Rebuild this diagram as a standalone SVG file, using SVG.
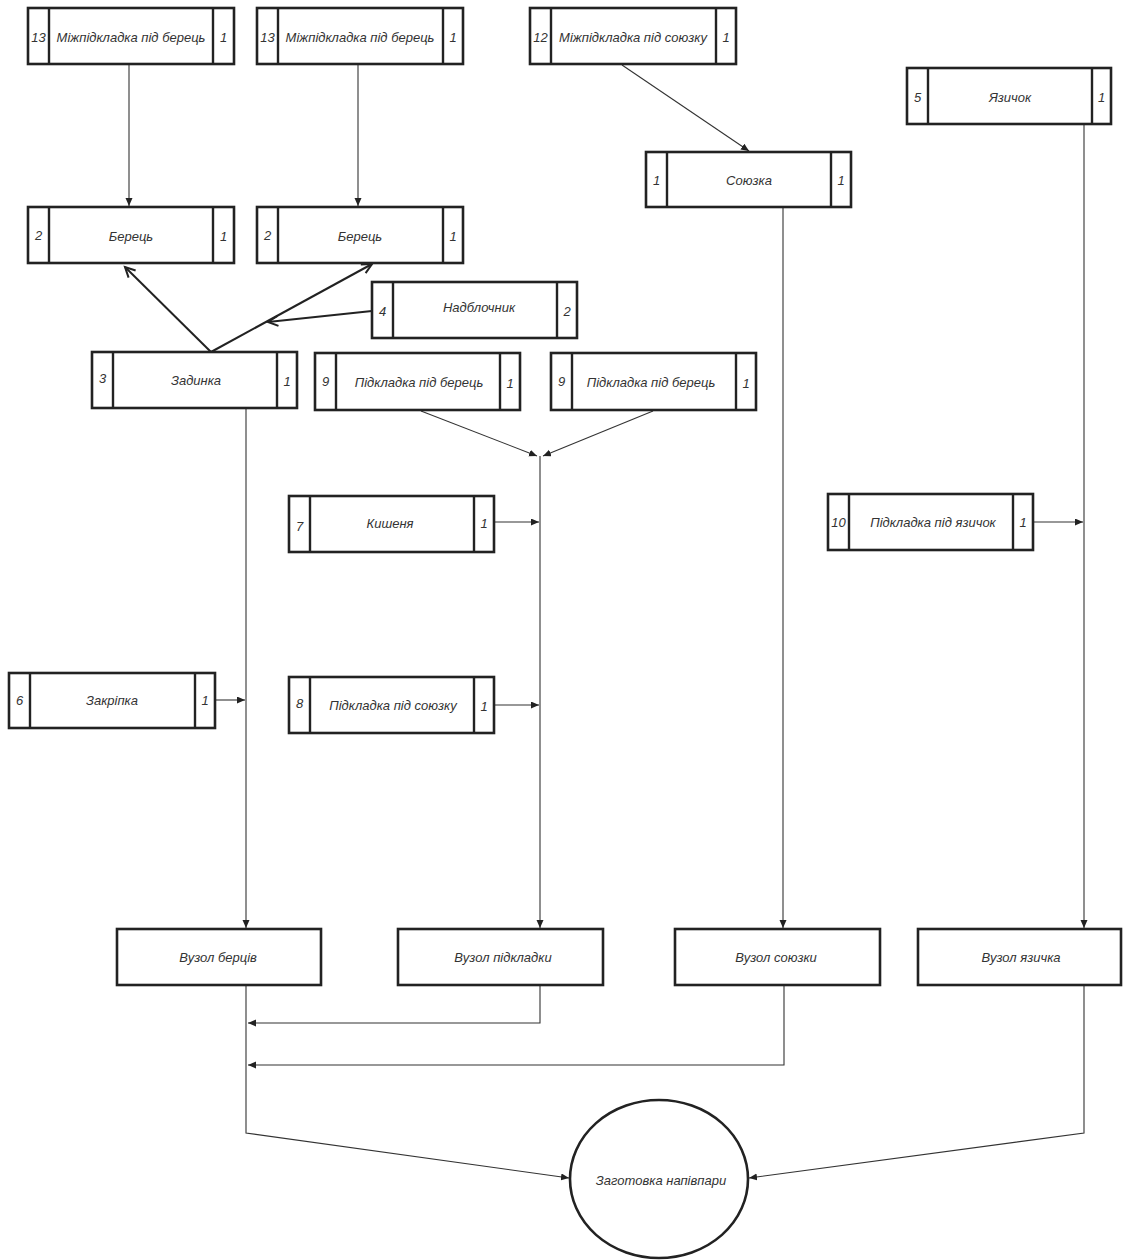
<svg xmlns="http://www.w3.org/2000/svg" width="1123" height="1260" viewBox="0 0 1123 1260">
<style>
.box{fill:#fff;stroke:#222;stroke-width:2.6}
.div{stroke:#222;stroke-width:2.4}
.t{font-family:"Liberation Sans",Arial,sans-serif;font-style:italic;font-size:13px;fill:#333;text-anchor:middle;dominant-baseline:central}
.c{fill:none;stroke:#333;stroke-width:1.1}
.ct{fill:none;stroke:#222;stroke-width:2}
</style>
<defs>
<marker id="ah" markerUnits="userSpaceOnUse" markerWidth="9" markerHeight="8" refX="8" refY="3.5" orient="auto">
<path d="M0,0 L8,3.5 L0,7 z" fill="#222"/>
</marker>
<marker id="oh" markerUnits="userSpaceOnUse" markerWidth="14" markerHeight="14" refX="11" refY="6" orient="auto">
<path d="M1,1 L11,6 L1,11" fill="none" stroke="#222" stroke-width="2"/>
</marker>
</defs>
<rect width="1123" height="1260" fill="#fff"/>

<g id="connectors">
<line class="c" x1="129" y1="64" x2="129" y2="206" marker-end="url(#ah)"/>
<line class="c" x1="358" y1="64" x2="358" y2="206" marker-end="url(#ah)"/>
<line class="c" x1="622" y1="65" x2="749" y2="151" marker-end="url(#ah)"/>
<line class="c" x1="783" y1="207" x2="783" y2="928" marker-end="url(#ah)"/>
<line class="c" x1="1084" y1="124" x2="1084" y2="928" marker-end="url(#ah)"/>
<line class="ct" x1="211" y1="352" x2="125" y2="267" marker-end="url(#oh)"/>
<line class="ct" x1="211" y1="352" x2="372" y2="264" marker-end="url(#oh)"/>
<line class="ct" x1="372" y1="311" x2="268" y2="322" marker-end="url(#oh)"/>
<line class="c" x1="246" y1="408" x2="246" y2="928" marker-end="url(#ah)"/>
<line class="c" x1="421" y1="411" x2="537" y2="456" marker-end="url(#ah)"/>
<line class="c" x1="653" y1="411" x2="543" y2="456" marker-end="url(#ah)"/>
<line class="c" x1="540" y1="456" x2="540" y2="928" marker-end="url(#ah)"/>
<line class="c" x1="494" y1="522" x2="539" y2="522" marker-end="url(#ah)"/>
<line class="c" x1="494" y1="705" x2="539" y2="705" marker-end="url(#ah)"/>
<line class="c" x1="215" y1="700" x2="245" y2="700" marker-end="url(#ah)"/>
<line class="c" x1="1033" y1="522" x2="1083" y2="522" marker-end="url(#ah)"/>
<polyline class="c" points="540,985 540,1023 248,1023" marker-end="url(#ah)"/>
<polyline class="c" points="784,985 784,1065 248,1065" marker-end="url(#ah)"/>
<polyline class="c" points="246,985 246,1133 569,1178" marker-end="url(#ah)"/>
<polyline class="c" points="1084,985 1084,1133 749,1178" marker-end="url(#ah)"/>
</g>

<g id="n13a">
<rect class="box" x="28" y="8" width="206" height="56"/>
<line class="div" x1="49" y1="8" x2="49" y2="64"/><line class="div" x1="213" y1="8" x2="213" y2="64"/>
<text class="t" x="38.5" y="37">13</text><text class="t" x="131" y="37">Міжпідкладка під берець</text><text class="t" x="223.5" y="37">1</text>
</g>
<g id="n13b">
<rect class="box" x="257" y="8" width="206" height="56"/>
<line class="div" x1="278" y1="8" x2="278" y2="64"/><line class="div" x1="443" y1="8" x2="443" y2="64"/>
<text class="t" x="267.5" y="37">13</text><text class="t" x="360" y="37">Міжпідкладка під берець</text><text class="t" x="453" y="37">1</text>
</g>
<g id="n12">
<rect class="box" x="530" y="8" width="206" height="56"/>
<line class="div" x1="551" y1="8" x2="551" y2="64"/><line class="div" x1="716" y1="8" x2="716" y2="64"/>
<text class="t" x="540.5" y="37">12</text><text class="t" x="633" y="37">Міжпідкладка під союзку</text><text class="t" x="726" y="37">1</text>
</g>
<g id="n5">
<rect class="box" x="907" y="68" width="204" height="56"/>
<line class="div" x1="928" y1="68" x2="928" y2="124"/><line class="div" x1="1092" y1="68" x2="1092" y2="124"/>
<text class="t" x="917.5" y="97">5</text><text class="t" x="1010" y="97">Язичок</text><text class="t" x="1101.5" y="97">1</text>
</g>
<g id="n1">
<rect class="box" x="646" y="152" width="205" height="55"/>
<line class="div" x1="667" y1="152" x2="667" y2="207"/><line class="div" x1="831" y1="152" x2="831" y2="207"/>
<text class="t" x="656.5" y="180">1</text><text class="t" x="749" y="180">Союзка</text><text class="t" x="841" y="180">1</text>
</g>
<g id="n2a">
<rect class="box" x="28" y="207" width="206" height="56"/>
<line class="div" x1="49" y1="207" x2="49" y2="263"/><line class="div" x1="213" y1="207" x2="213" y2="263"/>
<text class="t" x="38.5" y="235">2</text><text class="t" x="131" y="236">Берець</text><text class="t" x="223.5" y="236">1</text>
</g>
<g id="n2b">
<rect class="box" x="257" y="207" width="206" height="56"/>
<line class="div" x1="278" y1="207" x2="278" y2="263"/><line class="div" x1="443" y1="207" x2="443" y2="263"/>
<text class="t" x="267.5" y="235">2</text><text class="t" x="360" y="236">Берець</text><text class="t" x="453" y="236">1</text>
</g>
<g id="n4">
<rect class="box" x="372" y="282" width="205" height="56"/>
<line class="div" x1="393" y1="282" x2="393" y2="338"/><line class="div" x1="557" y1="282" x2="557" y2="338"/>
<text class="t" x="382.5" y="311">4</text><text class="t" x="479" y="307">Надблочник</text><text class="t" x="567" y="311">2</text>
</g>
<g id="n3">
<rect class="box" x="92" y="352" width="205" height="56"/>
<line class="div" x1="113" y1="352" x2="113" y2="408"/><line class="div" x1="277" y1="352" x2="277" y2="408"/>
<text class="t" x="102.5" y="378">3</text><text class="t" x="196" y="380">Задинка</text><text class="t" x="287" y="381">1</text>
</g>
<g id="n9a">
<rect class="box" x="315" y="353" width="205" height="57"/>
<line class="div" x1="336" y1="353" x2="336" y2="410"/><line class="div" x1="500" y1="353" x2="500" y2="410"/>
<text class="t" x="325.5" y="381">9</text><text class="t" x="419" y="382">Підкладка під берець</text><text class="t" x="510" y="383">1</text>
</g>
<g id="n9b">
<rect class="box" x="551" y="353" width="205" height="57"/>
<line class="div" x1="572" y1="353" x2="572" y2="410"/><line class="div" x1="736" y1="353" x2="736" y2="410"/>
<text class="t" x="561.5" y="381">9</text><text class="t" x="651" y="382">Підкладка під берець</text><text class="t" x="746" y="383">1</text>
</g>
<g id="n7">
<rect class="box" x="289" y="496" width="205" height="56"/>
<line class="div" x1="310" y1="496" x2="310" y2="552"/><line class="div" x1="474" y1="496" x2="474" y2="552"/>
<text class="t" x="299.5" y="526">7</text><text class="t" x="390" y="523">Кишеня</text><text class="t" x="484" y="523">1</text>
</g>
<g id="n10">
<rect class="box" x="828" y="494" width="205" height="56"/>
<line class="div" x1="849" y1="494" x2="849" y2="550"/><line class="div" x1="1013" y1="494" x2="1013" y2="550"/>
<text class="t" x="838.5" y="522">10</text><text class="t" x="933" y="522">Підкладка під язичок</text><text class="t" x="1023" y="522">1</text>
</g>
<g id="n6">
<rect class="box" x="9" y="673" width="206" height="55"/>
<line class="div" x1="30" y1="673" x2="30" y2="728"/><line class="div" x1="195" y1="673" x2="195" y2="728"/>
<text class="t" x="19.5" y="700">6</text><text class="t" x="112" y="700">Закріпка</text><text class="t" x="205" y="700">1</text>
</g>
<g id="n8">
<rect class="box" x="289" y="677" width="205" height="56"/>
<line class="div" x1="310" y1="677" x2="310" y2="733"/><line class="div" x1="474" y1="677" x2="474" y2="733"/>
<text class="t" x="299.5" y="703">8</text><text class="t" x="393" y="705">Підкладка під союзку</text><text class="t" x="484" y="706">1</text>
</g>
<g id="u1">
<rect class="box" x="117" y="929" width="204" height="56"/>
<text class="t" x="218" y="957">Вузол берців</text>
</g>
<g id="u2">
<rect class="box" x="398" y="929" width="205" height="56"/>
<text class="t" x="503" y="957">Вузол підкладки</text>
</g>
<g id="u3">
<rect class="box" x="675" y="929" width="205" height="56"/>
<text class="t" x="776" y="957">Вузол союзки</text>
</g>
<g id="u4">
<rect class="box" x="918" y="929" width="203" height="56"/>
<text class="t" x="1021" y="957">Вузол язичка</text>
</g>
<g id="final">
<ellipse cx="659" cy="1179" rx="89" ry="79" fill="#fff" stroke="#222" stroke-width="2.6"/>
<text class="t" x="661" y="1180">Заготовка напівпари</text>
</g>
</svg>
